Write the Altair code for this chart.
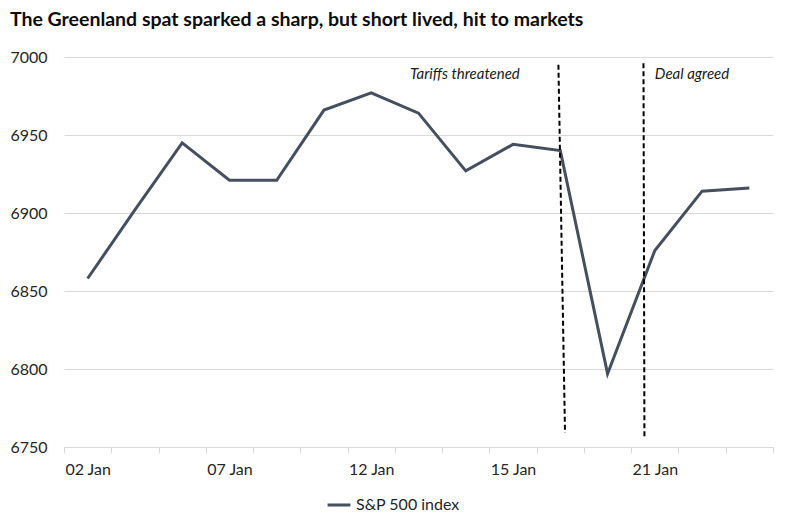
import json
import altair as alt
import pandas as pd

# ---- data ----
dates = ["02 Jan", "05 Jan", "06 Jan", "07 Jan", "08 Jan", "09 Jan", "12 Jan", "13 Jan",
         "14 Jan", "15 Jan", "16 Jan", "20 Jan", "21 Jan", "22 Jan", "23 Jan"]
values = [6858, 6902, 6945, 6921, 6921, 6966, 6977, 6964, 6927, 6944, 6940, 6797, 6876, 6914, 6916]
series_name = "S&P 500 index"

event_labels = ["Tariffs threatened", "Deal agreed"]
event_x_top = [9.96, 11.76]
event_x_bottom = [10.10, 11.78]
event_y_top = [6995, 6996]
event_y_bottom = [6759, 6756]
event_text_x = [6.82, 12.0]
event_text_y = [6989, 6989]

y_ticks = [6750, 6800, 6850, 6900, 6950, 7000]
shown_every = 3

title_text = "The Greenland spat sparked a sharp, but short lived, hit to markets"

# ---- frames ----
df = pd.DataFrame({"idx": list(range(len(dates))), "date": dates, "value": values,
                   "series": [series_name] * len(dates)})
ev = pd.DataFrame({"label": event_labels, "x1": event_x_top, "x2": event_x_bottom,
                   "y1": event_y_top, "y2": event_y_bottom,
                   "tx": event_text_x, "ty": event_text_y})

n = len(dates)
tick_vals = sorted([i - 0.5 for i in range(n + 1)] + list(range(n)))
label_arr = json.dumps([d if i % shown_every == 0 else "" for i, d in enumerate(dates)])

FONT = "Lato"
GRID = "#d9d9d9"
LINE = "#454f5e"

x_scale = alt.Scale(domain=[-0.5, n - 0.5], nice=False, zero=False)
y_scale = alt.Scale(domain=[6750, 7000], nice=False, zero=False)

x_axis = alt.Axis(
    values=tick_vals, title=None, grid=False,
    labelExpr=f"(datum.value % 1 == 0) ? {label_arr}[datum.value] : ''",
    labelFont=FONT, labelFontSize=16, labelColor="#262626",
    labelOverlap=False, labelPadding=8,
    domainColor=GRID, tickColor=GRID, tickSize=6,
    tickOpacity={"condition": {"test": "datum.value % 1 != 0", "value": 1}, "value": 0},
)
y_axis = alt.Axis(
    values=y_ticks, title=None, grid=True, gridColor=GRID, domain=False, ticks=False,
    labelFont=FONT, labelFontSize=16, labelColor="#262626", labelPadding=17,
    format="d",
)

line = alt.Chart(df).mark_line(strokeWidth=3).encode(
    x=alt.X("idx:Q", scale=x_scale, axis=x_axis),
    y=alt.Y("value:Q", scale=y_scale, axis=y_axis),
    color=alt.Color("series:N", scale=alt.Scale(domain=[series_name], range=[LINE]),
                    legend=alt.Legend(title=None, orient="none", legendX=262, legendY=435,
                                      symbolType="stroke", symbolStrokeWidth=3,
                                      symbolSize=520, labelFont=FONT, labelFontSize=16,
                                      labelColor="#262626")),
)

rules = alt.Chart(ev).mark_rule(strokeDash=[5, 3], strokeWidth=2, color="black").encode(
    x=alt.X("x1:Q", scale=x_scale, axis=x_axis), x2="x2:Q",
    y=alt.Y("y1:Q", scale=y_scale, axis=y_axis), y2="y2:Q",
)

texts = alt.Chart(ev).mark_text(align="left", baseline="middle", font=FONT,
                                fontStyle="italic", fontSize=15, color="#1a1a1a").encode(
    x=alt.X("tx:Q", scale=x_scale, axis=x_axis),
    y=alt.Y("ty:Q", scale=y_scale, axis=y_axis),
    text="label:N",
)

chart = alt.layer(line, rules, texts).properties(
    width=709, height=390,
    title=alt.TitleParams(title_text, anchor="start", font=FONT, fontSize=19.5,
                          fontWeight="bold", color="#0d0d0d", offset=19),
    autosize=alt.AutoSizeParams(type="none"),
    padding={"left": 56, "top": 49, "right": 6, "bottom": 70},
).configure_view(stroke=None)

chart.save("out.html", embed_options={"renderer": "svg", "actions": False})
